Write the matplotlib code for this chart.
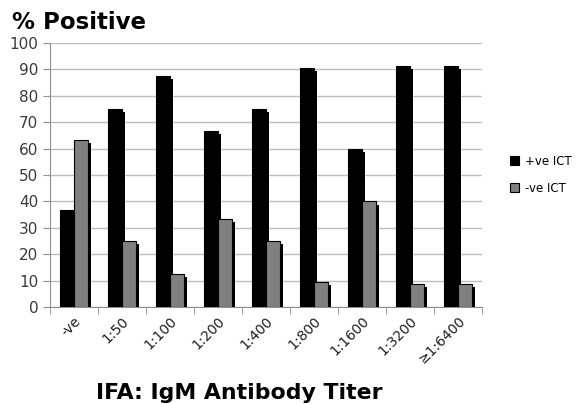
import matplotlib
matplotlib.use('Agg')
import matplotlib.pyplot as plt
import numpy as np

titers = ['-ve', '1:50', '1:100', '1:200', '1:400', '1:800', '1:1600', '1:3200', '\u22651:6400']
pos_ict = [36.7, 75.0, 87.5, 66.7, 75.0, 90.5, 60.0, 91.3, 91.3]
neg_ict = [63.3, 25.0, 12.5, 33.3, 25.0, 9.5, 40.0, 8.7, 8.7]

fig = plt.figure(figsize=(5.79, 4.04), dpi=100)
ax = fig.add_axes([0.0864, 0.240, 0.746, 0.654])

x = np.arange(len(titers))
w = 0.3
shadow_w = 0.07
drop = 1.2

# shadow strips to fake the 3D look
ax.bar(x + shadow_w / 2 - 0.01, np.array(pos_ict) - drop, shadow_w, color='black', zorder=2)
ax.bar(x + w + shadow_w / 2 - 0.01, np.array(neg_ict) - drop, shadow_w, color='black', zorder=2)

ax.bar(x - w / 2, pos_ict, w, color='black', edgecolor='black', linewidth=0.8, label='+ve ICT', zorder=3)
ax.bar(x + w / 2, neg_ict, w, color='#808080', edgecolor='black', linewidth=0.8, label='-ve ICT', zorder=3)

ax.set_xlim(-0.5, len(titers) - 0.5)
ax.set_ylim(0, 100)
ax.set_yticks(range(0, 101, 10))
ax.yaxis.grid(True, color='#bdbdbd', linewidth=1)
ax.set_axisbelow(True)

ax.set_xticks(x)
ax.set_xticklabels(titers, rotation=45, ha='right', rotation_mode='anchor', fontsize=10, color='#202020')
ax.set_xticks(np.arange(-0.5, len(titers)), minor=True)
ax.tick_params(axis='x', which='major', length=0, pad=5)
ax.tick_params(axis='x', which='minor', length=5, color='#909090')
ax.tick_params(axis='y', length=5, color='#909090', labelsize=11, labelcolor='#3a3a3a')

for s in ['top', 'right']:
    ax.spines[s].set_visible(False)
for s in ['left', 'bottom']:
    ax.spines[s].set_color('#909090')

fig.text(0.02, 0.945, '% Positive', fontsize=16.5, fontweight='bold', va='center', ha='left')
fig.text(0.414, 0.028, 'IFA: IgM Antibody Titer', fontsize=15.8, fontweight='bold', va='center', ha='center')

ax.legend(loc='center left', bbox_to_anchor=(1.04, 0.5), frameon=False, fontsize=8.5,
          handlelength=0.8, handleheight=0.8, labelspacing=1.2, handletextpad=0.5)

fig.savefig('out.png', dpi=100)
